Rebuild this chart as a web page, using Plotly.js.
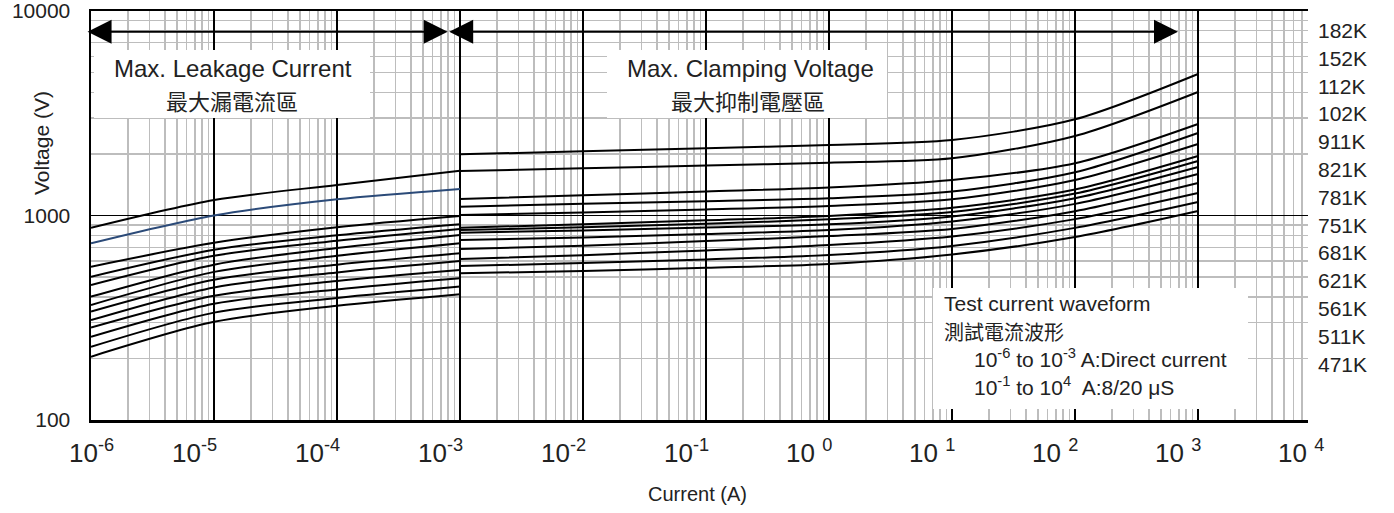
<!DOCTYPE html>
<html><head><meta charset="utf-8">
<script src="https://cdn.plot.ly/plotly-3.0.1.min.js"></script>
<style>html,body{margin:0;padding:0;background:#fff}#chart{width:1394px;height:513px}</style>
</head><body><div id="chart"></div>
<script>
// ---- data ----
const leakCurrent = [1e-6, 1e-5, 1e-4, 1e-3];
const leak01 = [871, 1191, 1410, 1656];
const leak02 = [731, 1000, 1200, 1348];   // blue curve
const leak03 = [562, 735, 877, 995];
const leak04 = [502, 680, 800, 906];
const leak05 = [457, 635, 752, 859];
const leak06 = [401, 575, 693, 803];
const leak07 = [365, 530, 635, 731];
const leak08 = [339, 485, 575, 653];
const leak09 = [308, 445, 527, 599];
const leak10 = [283, 405, 478, 541];
const leak11 = [255, 370, 435, 493];
const leak12 = [228, 335, 395, 449];
const leak13 = [204, 302, 362, 412];

const clampCurrent = [1e-3, 1e-2, 1e-1, 1e0, 1e1, 1e2, 1e3];
const clamp01 = [1992, 2060, 2135, 2212, 2339, 2954, 4920];
const clamp02 = [1651, 1700, 1755, 1812, 1905, 2447, 4018];
const clamp03 = [1204, 1255, 1310, 1370, 1492, 1800, 2802];
const clamp04 = [1104, 1140, 1175, 1214, 1310, 1627, 2531];
const clamp05 = [1005, 1035, 1070, 1113, 1200, 1492, 2237];
const clamp06 = [872, 905, 948, 995, 1090, 1340, 1954];
const clamp07 = [849, 875, 912, 958, 1040, 1280, 1848];
const clamp08 = [824, 845, 873, 906, 990, 1215, 1727];
const clamp09 = [759, 780, 812, 849, 935, 1140, 1596];
const clamp10 = [686, 712, 750, 794, 860, 1050, 1442];
const clamp11 = [613, 640, 675, 717, 790, 960, 1288];
const clamp12 = [566, 585, 610, 641, 710, 870, 1164];
const clamp13 = [522, 535, 555, 580, 645, 785, 1052];

const varistorLabels = ['182K','152K','112K','102K','911K','821K','781K','751K','681K','621K','561K','511K','471K'];

const xTickExps = [-6, -5, -4, -3, -2, -1, 0, 1, 2, 3, 4];
const xTickLabels = ['10<sup>-6</sup>','10<sup>-5</sup>','10<sup>-4</sup>','10<sup>-3</sup>','10<sup>-2</sup>',
  '10<sup>-1</sup>','10 <sup>0</sup>','10 <sup>1</sup>','10 <sup>2</sup>','10 <sup>3</sup>','10 <sup>4</sup>'];
const yTickVals = [100, 1000, 10000];
const yTickLabels = ['100', '1000', '10000'];

// ---- build ----
const leakSeries = [leak01, leak02, leak03, leak04, leak05, leak06, leak07, leak08, leak09, leak10, leak11, leak12, leak13];
const clampSeries = [clamp01, clamp02, clamp03, clamp04, clamp05, clamp06, clamp07, clamp08, clamp09, clamp10, clamp11, clamp12, clamp13];

const traces = [];
leakSeries.forEach((s, i) => traces.push({
  x: leakCurrent, y: s, type: 'scatter', mode: 'lines', showlegend: false, hoverinfo: 'skip',
  line: {color: i === 1 ? '#2b4a78' : '#000', width: 2, shape: 'spline', smoothing: 0.8}
}));
clampSeries.forEach((s) => traces.push({
  x: clampCurrent, y: s, type: 'scatter', mode: 'lines', showlegend: false, hoverinfo: 'skip',
  line: {color: '#000', width: 2, shape: 'spline', smoothing: 0.8}
}));

const L = 91, R = 1308, T = 11, B = 420;
const px = (x) => (x - L) / (R - L);
const py = (y) => 1 - (y - T) / (B - T);
const FONT = 'Liberation Sans, Arial, sans-serif';
const CJK = 'Noto Sans CJK TC, Noto Sans CJK SC, sans-serif';
const xMax = 3.894;

const annotations = [];
xTickExps.forEach((e, i) => {
  const inRange = e <= xMax;
  annotations.push({
    text: xTickLabels[i], showarrow: false,
    xref: inRange ? 'x' : 'paper', x: inRange ? e : (e + 6) / (xMax + 6),
    yref: 'paper', y: 0, yanchor: 'top', yshift: -13,
    xanchor: 'center', xshift: i === 0 ? 0 : -20,
    font: {family: FONT, size: 26, color: '#222'}
  });
});
varistorLabels.forEach((t, i) => annotations.push({
  text: t, showarrow: false, xref: 'paper', x: 1, xanchor: 'left', xshift: 8,
  yref: 'paper', y: py(30.5 + i * 27.8), yanchor: 'middle',
  font: {family: FONT, size: 21, color: '#222'}
}));
// region arrows
annotations.push({
  xref: 'x', yref: 'y', axref: 'x', ayref: 'y', x: -3.10, y: 3.899, ax: -6.04, ay: 3.899,
  text: '', showarrow: true, arrowside: 'end+start', arrowhead: 2, startarrowhead: 2,
  arrowsize: 2.4, startarrowsize: 2.4, arrowwidth: 2, arrowcolor: '#000', standoff: 0, startstandoff: 0
});
annotations.push({
  xref: 'x', yref: 'y', axref: 'x', ayref: 'y', x: 2.837, y: 3.899, ax: -3.10, ay: 3.899,
  text: '', showarrow: true, arrowside: 'end+start', arrowhead: 2, startarrowhead: 2,
  arrowsize: 2.4, startarrowsize: 2.4, arrowwidth: 2, arrowcolor: '#000', standoff: 0, startstandoff: 0
});
const txt = (text, x, y, size, fam, anchor) => annotations.push({
  text, showarrow: false, xref: 'paper', yref: 'paper', x: px(x), y: py(y),
  xanchor: anchor || 'center', yanchor: 'middle', font: {family: fam, size, color: '#222'}
});
txt('Max. Leakage Current', 233, 68, 24, FONT);
txt('最大漏電流區', 232, 100, 22, CJK);
txt('Max. Clamping Voltage', 750, 68, 24, FONT);
txt('最大抑制電壓區', 748, 100, 22, CJK);
txt('Test current waveform', 942, 303, 21, FONT, 'left');
txt('測試電流波形', 942, 331, 20, CJK, 'left');
txt('10<sup>-6</sup> to 10<sup>-3</sup> A:Direct current', 972, 358, 21, FONT, 'left');
txt('10<sup>-1</sup> to 10<sup>4</sup>  A:8/20 μS', 972, 386, 21, FONT, 'left');
txt('Current (A)', 697, 494, 20, FONT);
annotations.push({
  text: 'Voltage (V)', showarrow: false, textangle: -90, xref: 'paper', yref: 'paper',
  x: px(42), y: py(143), xanchor: 'center', yanchor: 'middle', font: {family: FONT, size: 21, color: '#222'}
});

const box = (x0, y0, x1, y1) => ({
  type: 'rect', xref: 'paper', yref: 'paper', x0: px(x0), x1: px(x1), y0: py(y1), y1: py(y0),
  fillcolor: '#fff', line: {width: 0}, layer: 'above'
});

const layout = {
  width: 1394, height: 513,
  margin: {l: L, r: 1394 - R, t: T, b: 513 - B},
  paper_bgcolor: '#fff', plot_bgcolor: '#fff',
  showlegend: false,
  xaxis: {
    type: 'log', range: [-6, xMax], tickmode: 'linear', tick0: 0, dtick: 1,
    showticklabels: false, ticks: '', showgrid: true, gridcolor: '#000', gridwidth: 1.5,
    minor: {tickmode: 'linear', dtick: 'D1', showgrid: true, gridcolor: '#bdbdbd', gridwidth: 1.3, ticks: ''},
    showline: true, linecolor: '#000', linewidth: 2.5, mirror: true, zeroline: false
  },
  yaxis: {
    type: 'log', range: [2, 4], tickmode: 'array', tickvals: yTickVals, ticktext: yTickLabels,
    ticks: '', ticklabelstandoff: 14, ticklabeloverflow: 'allow',
    tickfont: {family: FONT, size: 21, color: '#222'},
    showgrid: true, gridcolor: '#000', gridwidth: 1.5,
    minor: {tickmode: 'linear', dtick: 'D1', showgrid: true, gridcolor: '#bdbdbd', gridwidth: 1.3, ticks: ''},
    showline: true, linecolor: '#000', linewidth: 2.5, zeroline: false
  },
  shapes: [box(94, 50, 370, 118), box(607, 50, 887, 118), box(933, 288, 1248, 409)],
  annotations
};

Plotly.newPlot('chart', traces, layout, {staticPlot: true, displayModeBar: false});
</script>
</body></html>
